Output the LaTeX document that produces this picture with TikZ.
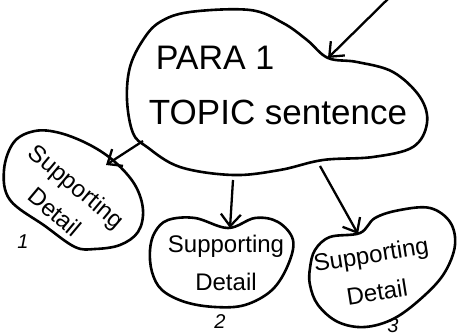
\documentclass[tikz,border=0pt]{standalone}
\usepackage{fontspec}
\setmainfont{Liberation Sans}
\usetikzlibrary{arrows.meta}

\begin{document}
\begin{tikzpicture}[
    x=1pt, y=-1pt,
    blob/.style={line width=2.6pt, line join=round},
    hand/.style={font=\fontsize{24}{38}\selectfont, align=center, inner sep=0pt},
    arr/.style={-{Straight Barb[length=12pt, width=20pt]}, line width=2.3pt},
    num/.style={font=\fontsize{20}{20}\selectfont\itshape, inner sep=0pt}
]
    \useasboundingbox (0,0) rectangle (458,336);

    % topic blob
    \draw[blob] plot[smooth cycle, tension=0.6] coordinates {
        (190,12) (250,10) (283,23) (307,40) (328,58) (357,62) (393,72)
        (420,97) (427,123) (413,147) (373,157) (323,160) (280,170)
        (233,175) (180,167) (147,147) (133,133) (127,100) (130,67)
        (143,40) (160,22)};
    \node[font=\fontsize{34}{34}\selectfont] (para) at (215,58) {PARA 1};
    \node[font=\fontsize{35}{35}\selectfont] (topic) at (278,112) {TOPIC sentence};

    % detail blobs
    \draw[blob] plot[smooth cycle, tension=0.6] coordinates {
        (4,170) (14,142) (35,131) (60,133) (90,145) (115,162) (135,185)
        (143,210) (138,232) (120,245) (95,249) (75,247) (45,226) (10,200)};
    \node[hand, font=\fontsize{24}{34}\selectfont, rotate=-40] (det1) at (66,199) {Supporting\\Detail};
    \node[num] (n1) at (23,242) {1};

    \draw[blob] plot[smooth cycle, tension=0.6] coordinates {
        (150,250) (155,232) (168,220) (195,218) (228,228) (255,218)
        (278,222) (293,240) (288,265) (272,290) (245,305) (215,307)
        (185,302) (162,290) (152,272)};
    \node[hand] (det2) at (226,263) {Supporting\\Detail};
    \node[num] (n2) at (220,322) {2};

    \draw[blob] plot[smooth cycle, tension=0.6] coordinates {
        (310,268) (315,250) (330,237) (360,233) (375,218) (400,210)
        (430,208) (450,222) (455,245) (445,272) (425,295) (395,318)
        (365,327) (338,322) (318,305) (310,285)};
    \node[hand, rotate=9] (det3) at (374,273) {Supporting\\Detail};
    \node[num] (n3) at (393,326) {3};

    % arrow ends
    \coordinate (src) at (393,-6);
    \coordinate (notch) at (328,58);
    \coordinate (m1) at (143,141);
    \coordinate (d1top) at (106,165);
    \coordinate (m2) at (233,180);
    \coordinate (d2top) at (230,228);
    \coordinate (m3) at (320,166);
    \coordinate (d3top) at (358,234);

    \draw[arr] (src) -- (notch);
    \draw[arr] (m1) -- (d1top);
    \draw[arr] (m2) -- (d2top);
    \draw[arr] (m3) -- (d3top);
\end{tikzpicture}
\end{document}
